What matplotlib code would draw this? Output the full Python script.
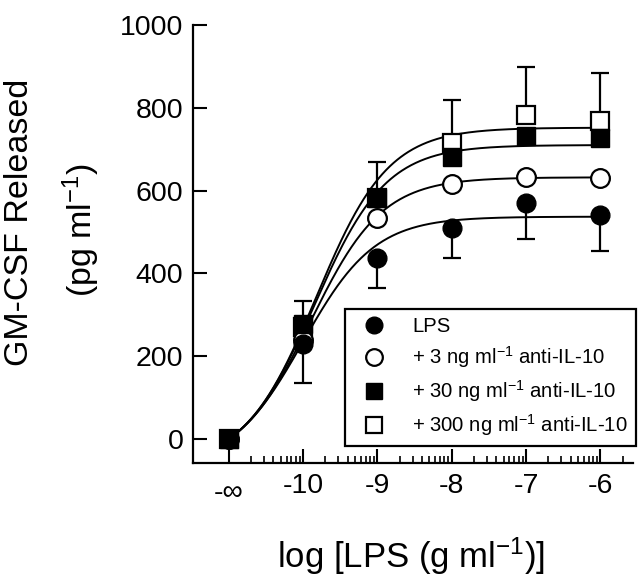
import numpy as np
import matplotlib
matplotlib.use("Agg")
import matplotlib.pyplot as plt
from matplotlib.lines import Line2D

plt.rcParams['font.family'] = ['Liberation Sans', 'DejaVu Sans']
plt.rcParams['mathtext.fontset'] = 'custom'
plt.rcParams['mathtext.rm'] = 'Liberation Sans'
plt.rcParams['mathtext.it'] = 'Liberation Sans'

# log [LPS] positions; -11 stands for -inf (no LPS)
x_pos = [-11, -10, -9, -8, -7, -6]
x_labels = ['-\u221e', '-10', '-9', '-8', '-7', '-6']

# GM-CSF released (pg/ml)
lps = [0, 230, 438, 510, 571, 542]
anti3 = [0, 240, 533, 616, 632, 631]
anti30 = [0, 278, 581, 680, 732, 726]
anti300 = [0, 270, 583, 714, 782, 768]

# error bars (LPS downward, 300 ng/ml upward)
lps_err_low = [0, 94, 74, 72, 87, 88]
anti300_err_up = [0, 64, 85, 104, 116, 116]

# fitted curve parameters: plateau, log EC50, slope
tops = [537, 632, 710, 752]
log_ec50 = [-10.0, -9.9, -9.85, -9.82]
hill = [0.9, 0.9, 0.9, 0.9]

labels = ['LPS',
          '+ 3 ng ml$^{-1}$ anti-IL-10',
          '+ 30 ng ml$^{-1}$ anti-IL-10',
          '+ 300 ng ml$^{-1}$ anti-IL-10']


def fit_curve(xx, top, ec, h):
    f = 1.0 / (1.0 + 10 ** ((ec - xx) * h))
    f0 = 1.0 / (1.0 + 10 ** ((ec - x_pos[0]) * h))
    return top * (f - f0) / (1.0 - f0)


fig = plt.figure(figsize=(6.4, 5.79), dpi=100)
ax = fig.add_axes([193 / 640, 1 - 463 / 579, 440 / 640, 438 / 579])

xx = np.linspace(x_pos[0], x_pos[-1], 400)
for top, ec, h in zip(tops, log_ec50, hill):
    ax.plot(xx, fit_curve(xx, top, ec, h), 'k-', lw=1.4, zorder=2)

ax.errorbar(x_pos, lps, yerr=[lps_err_low, [0] * 6], fmt='none', ecolor='k',
            elinewidth=1.6, capsize=6.5, capthick=1.6, zorder=2.5)
ax.errorbar(x_pos, anti300, yerr=[[0] * 6, anti300_err_up], fmt='none', ecolor='k',
            elinewidth=1.6, capsize=6.5, capthick=1.6, zorder=2.5)

ms = 13.5
ax.plot(x_pos, anti300, 's', ms=ms, mfc='white', mec='k', mew=1.6, ls='none', zorder=3)
ax.plot(x_pos, anti3, 'o', ms=ms, mfc='white', mec='k', mew=1.6, ls='none', zorder=4)
ax.plot(x_pos, anti30, 's', ms=ms, mfc='k', mec='k', ls='none', zorder=5)
ax.plot(x_pos, lps, 'o', ms=ms, mfc='k', mec='k', ls='none', zorder=6)

ax.set_xlim(-11.48, -5.56)
ax.set_ylim(-58, 1000)
ax.set_yticks([0, 200, 400, 600, 800, 1000])
ax.set_xticks(x_pos)
ax.set_xticklabels(x_labels)
minor = [d + np.log10(k) for d in range(-12, -5) for k in range(2, 10)]
minor = [m for m in minor if -11.48 < m < -5.56 and m > -11]
ax.set_xticks(minor, minor=True)

for s in ['top', 'right']:
    ax.spines[s].set_visible(False)
for s in ['left', 'bottom']:
    ax.spines[s].set_linewidth(1.6)
ax.tick_params(axis='both', which='major', direction='in', length=10, width=1.5,
               labelsize=20.5, pad=7)
ax.tick_params(axis='x', which='minor', direction='in', length=5, width=1.2)
ax.xaxis.get_major_ticks()[0].set_pad(12)

fig.text(20 / 640, 1 - 222 / 579, 'GM-CSF Released', rotation=90, fontsize=24.5,
         ha='center', va='center')
fig.text(81 / 640, 1 - 230 / 579, '(pg ml$^{-1}$)', rotation=90, fontsize=24.5,
         ha='center', va='center')
fig.text(411 / 640, 1 - 568 / 579, 'log [LPS (g ml$^{-1}$)]', fontsize=25,
         ha='center', va='baseline')

handles = [
    Line2D([], [], marker='o', ls='none', ms=12, mfc='k', mec='k'),
    Line2D([], [], marker='o', ls='none', ms=12, mfc='white', mec='k', mew=1.6),
    Line2D([], [], marker='s', ls='none', ms=12, mfc='k', mec='k'),
    Line2D([], [], marker='s', ls='none', ms=12, mfc='white', mec='k', mew=1.6),
]
leg = ax.legend(handles, labels, loc='lower right',
                bbox_to_anchor=(636 / 640, 1 - 446 / 579), bbox_transform=fig.transFigure,
                borderaxespad=0, fontsize=14.6, frameon=True, fancybox=False,
                framealpha=1, edgecolor='k', borderpad=0.4, handlelength=2.0,
                handletextpad=0.9, labelspacing=0.4)
leg.get_frame().set_linewidth(1.6)
leg.set_zorder(10)

fig.savefig('out.png', dpi=100)
